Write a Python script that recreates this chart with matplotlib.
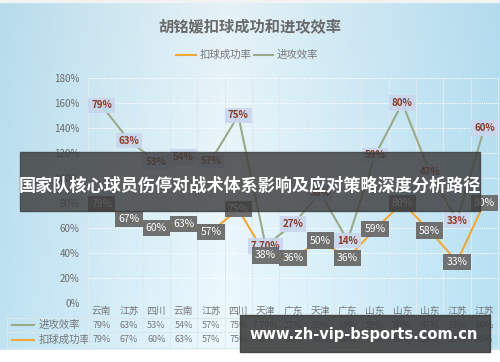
import numpy as np
import matplotlib
matplotlib.use("Agg")
import matplotlib.pyplot as plt
import matplotlib.transforms as mtransforms
from matplotlib.patches import Rectangle
from matplotlib.lines import Line2D

plt.rcParams['font.family'] = ['Noto Sans CJK SC', 'DejaVu Sans']

categories = ["云南", "江苏", "四川", "云南", "江苏", "四川", "天津", "广东",
              "天津", "广东", "山东", "山东", "山东", "江苏", "江苏"]
attack_eff = [79, 63, 53, 54, 57, 75, 7.7, 27, 38, 14, 59, 80, 47, 33, 60]
spike_rate = [79, 67, 60, 63, 57, 75, 38, 36, 50, 36, 59, 80, 58, 33, 80]
yticks = [0, 20, 40, 60, 80, 100, 120, 140, 160, 180]
title = "胡铭媛扣球成功和进攻效率"
series_names = ["扣球成功率", "进攻效率"]
banner = "国家队核心球员伤停对战术体系影响及应对策略深度分析路径"
watermark = "www.zh-vip-bsports.com.cn"

W, H = 500, 362
fig = plt.figure(figsize=(W / 100, H / 100), dpi=100)

# background gradient
bg = fig.add_axes([0, 0, 1, 1])
bg.set_xlim(0, W); bg.set_ylim(H, 0); bg.axis('off')
nx, ny = 200, 100
xx = np.linspace(0, 1, nx)[None, :]
yy = np.linspace(0, 1, ny)[:, None]
left = np.array([0.72, 0.86, 0.92])
mid = np.array([0.90, 0.95, 0.97])
right = np.array([0.70, 0.86, 0.93])
t = xx[..., None]
col = np.where(t < 0.45, left + (mid - left) * (t / 0.45), mid + (right - mid) * ((t - 0.45) / 0.55))
col = np.broadcast_to(col, (ny, nx, 3)).copy()
col = col + (yy[..., None] * 0.03)
col = np.clip(col, 0, 1)
bg.imshow(col, extent=[0, W, 350, 2], aspect='auto', zorder=0)
bg.add_patch(Rectangle((0, 350), W, 12, color='white', zorder=1))
bg.add_patch(Rectangle((0, 0), W, 2, color='#f2f2f2', zorder=1))

# title and legend
bg.text(250, 27, title, ha='center', va='center', fontsize=11, fontweight='bold', color='#6a6a6a')
bg.add_line(Line2D([176, 196], [55, 55], color='#f0a83a', lw=1.5))
bg.text(200, 55, series_names[0], ha='left', va='center', fontsize=7.5, color='#777777')
bg.add_line(Line2D([254, 273], [55, 55], color='#9aaa88', lw=1.5))
bg.text(277, 55, series_names[1], ha='left', va='center', fontsize=7.5, color='#777777')

# main axes
ax = fig.add_axes([88 / W, (H - 303) / H, 410 / W, 225 / H])
ax.patch.set_alpha(0)
n = len(categories)
x = np.arange(n)
ax.set_xlim(-0.5, n - 0.5)
ax.set_ylim(0, 180)
for s in ax.spines.values():
    s.set_visible(False)
ax.set_xticks([])
ax.set_yticks(yticks)
ax.set_yticklabels([f"{v}%" for v in yticks], fontsize=7, color='#6a6a6a')
ax.tick_params(axis='y', length=0, pad=6)
for v in yticks[1:]:
    ax.axhline(v, color='white', lw=0.8, ls=(0, (1, 1)), zorder=1)
for b in np.arange(-0.5, n, 1.0):
    ax.axvline(b, ymin=-0.2, ymax=1, color='#dfe9ee', lw=0.8, clip_on=False, zorder=1)

stacked = np.array(attack_eff) + np.array(spike_rate)
ax.plot(x, spike_rate, color='#f0a83a', lw=1.5, zorder=3)
ax.plot(x, stacked, color='#9aaa88', lw=1.5, zorder=3)

def fmt(v):
    return f"{v:.0f}%" if float(v).is_integer() else f"{v:.2f}%"

for xi, yi, v in zip(x, stacked, attack_eff):
    ax.text(xi, yi, fmt(v), ha='center', va='center', fontsize=7, fontweight='bold',
            color='#8a3a22', zorder=4,
            bbox=dict(boxstyle='square,pad=0.3', fc='#c9d6ee', ec='none', alpha=0.9))
for xi, yi, v in zip(x, spike_rate, spike_rate):
    ax.text(xi, yi, fmt(v), ha='center', va='center', fontsize=7.5,
            color='white', zorder=5,
            bbox=dict(boxstyle='square,pad=0.3', fc='#6a6a6a', ec='none', alpha=0.95))

# data table beneath
tr = mtransforms.blended_transform_factory(ax.transData, ax.transAxes)
px = 1 / 225
for xi, c in zip(x, categories):
    ax.text(xi, -8 * px, c, transform=tr, ha='center', va='center', fontsize=7, color='#777777', clip_on=False)
for xi, v in zip(x, attack_eff):
    ax.text(xi, -22 * px, fmt(v), transform=tr, ha='center', va='center', fontsize=6.5, color='#777777', clip_on=False)
for xi, v in zip(x, spike_rate):
    ax.text(xi, -37 * px, fmt(v), transform=tr, ha='center', va='center', fontsize=6.5, color='#777777', clip_on=False)
for yline in [318, 332, 348]:
    bg.add_line(Line2D([7, 498], [yline, yline], color='#dbe6ea', lw=0.8, zorder=2))
bg.add_line(Line2D([7, 7], [318, 348], color='#dbe6ea', lw=0.8, zorder=2))
bg.add_line(Line2D([12, 34], [325, 325], color='#9aaa88', lw=1.5, zorder=2))
bg.text(39, 325, series_names[1], ha='left', va='center', fontsize=7.5, color='#777777', zorder=2)
bg.add_line(Line2D([12, 34], [340, 340], color='#f0a83a', lw=1.5, zorder=2))
bg.text(39, 340, series_names[0], ha='left', va='center', fontsize=7.5, color='#777777', zorder=2)

# overlays
ov = fig.add_axes([0, 0, 1, 1])
ov.set_xlim(0, W); ov.set_ylim(H, 0); ov.axis('off')
ov.add_patch(Rectangle((20, 152), 460, 59, color='#3c3c3c', alpha=0.82))
ov.text(250, 186, banner, ha='center', va='center', fontsize=12.3, fontweight='bold', color='white')
ov.add_patch(Rectangle((240, 315), 250, 37, color='#3a3a3a', alpha=0.88))
ov.text(364, 335, watermark, ha='center', va='center', fontsize=10.5, fontweight='bold',
        color='white', family='DejaVu Sans')

fig.savefig('out.png', dpi=100)
